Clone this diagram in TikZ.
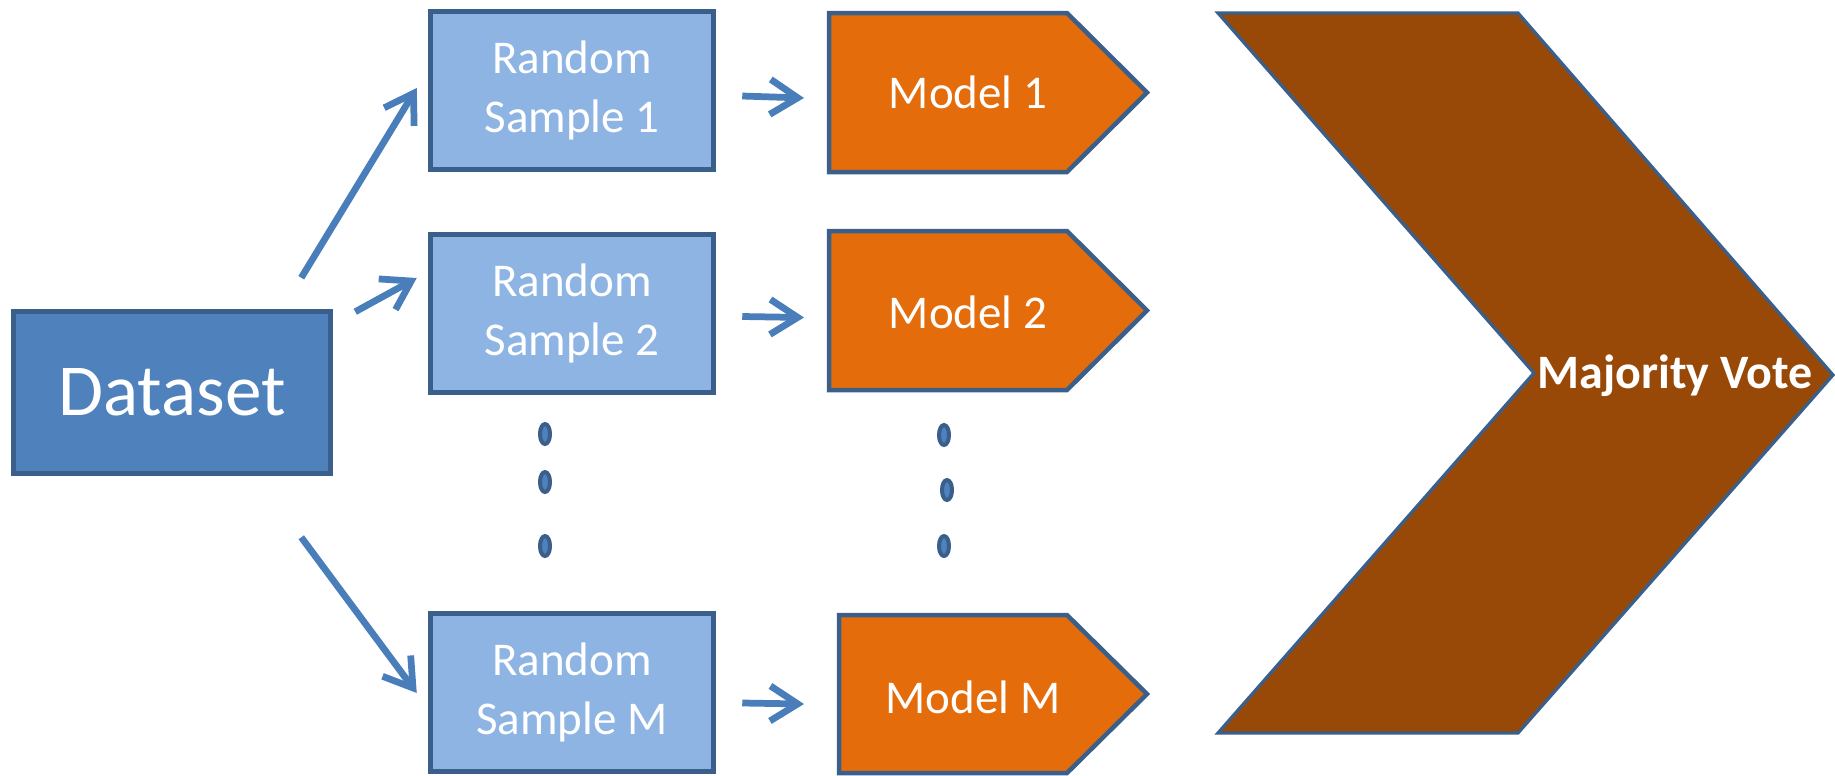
\documentclass[tikz,border=0pt]{standalone}
\usepackage{fontspec}
\setmainfont{Carlito}
\usetikzlibrary{arrows.meta,calc}
\definecolor{dsfill}{HTML}{4F81BD}
\definecolor{bord}{HTML}{3A5F8B}
\definecolor{smpfill}{HTML}{8EB4E3}
\definecolor{mdlfill}{HTML}{E46C0A}
\definecolor{chevfill}{HTML}{984807}
\definecolor{arr}{HTML}{4A7EBB}
\begin{document}
\begin{tikzpicture}[x=0.4pt,y=-0.4pt,
  box/.style={draw=bord, line width=2pt, inner sep=0pt, text=white},
  dsbox/.style={box, fill=dsfill, minimum width=127pt, minimum height=65pt, font=\fontsize{29.3}{34}\selectfont},
  smpbox/.style={box, fill=smpfill, minimum width=113.4pt, minimum height=63.4pt, align=center, font=\fontsize{18.8}{23.4}\selectfont},
  mdlshape/.style={draw=bord, line width=1.8pt, fill=mdlfill, line join=miter},
  mdltext/.style={text=white, inner sep=0pt, font=\fontsize{18.8}{22}\selectfont},
  chevshape/.style={draw=bord, line width=1.3pt, fill=chevfill, line join=miter},
  conn/.style={draw=arr, line width=2.7pt, -{Straight Barb[length=11pt,width=14pt]}},
  vdot/.style={draw=bord, line width=1.6pt, fill=dsfill}
]
\useasboundingbox (0,0) rectangle (1835,775);

% boxes
\node[dsbox] (ds) at (172,392.5) {Dataset};
\node[smpbox] (s1) at (572,90.5) {Random\\Sample 1};
\node[smpbox] (s2) at (572,313.5) {Random\\Sample 2};
\node[smpbox] (sM) at (572,692.5) {Random\\Sample M};

% model pentagons
\path[mdlshape] (829,13) -- (1067,13) -- (1147,92.5) -- (1067,172) -- (829,172) -- cycle;
\path[mdlshape] (829,231) -- (1067,231) -- (1147,310.5) -- (1067,390) -- (829,390) -- cycle;
\path[mdlshape] (839,615) -- (1067,615) -- (1147,694) -- (1067,773) -- (839,773) -- cycle;
\coordinate (m1w) at (829,92.5);
\coordinate (m2w) at (829,310.5);
\coordinate (mMw) at (839,694);
\node[mdltext] (m1) at (968,92) {Model 1};
\node[mdltext] (m2) at (968,312) {Model 2};
\node[mdltext] (mM) at (973,697) {Model M};

% chevron
\path[chevshape] (1218,13) -- (1518,13) -- (1833,375) -- (1518,733) -- (1218,733) -- (1534,373) -- cycle;
\node[text=white, inner sep=0pt, font=\bfseries\fontsize{19.2}{22}\selectfont] (mv) at (1675,376) {Majority Vote};

% dots
\draw[vdot] (545,434) ellipse [x radius=2pt, y radius=4pt];
\draw[vdot] (545,482) ellipse [x radius=2pt, y radius=4pt];
\draw[vdot] (545,546) ellipse [x radius=2pt, y radius=4pt];
\draw[vdot] (944,435) ellipse [x radius=2pt, y radius=4pt];
\draw[vdot] (947,490) ellipse [x radius=2pt, y radius=4pt];
\draw[vdot] (944,546) ellipse [x radius=2pt, y radius=4pt];

% connectors
\draw[conn] ($(ds.north east)+(-32,-31)$) -- ($(s1.west)+(-11,-2.5)$);
\draw[conn] ($(ds.north east)+(22,3)$) -- ($(s2.west)+(-11,-35.5)$);
\draw[conn] ($(ds.south east)+(-32,61)$) -- ($(sM.west)+(-11,0.5)$);
\draw[conn] ($(s1.east)+(26,5.5)$) -- ($(m1w)+(-25,5.5)$);
\draw[conn] ($(s2.east)+(26,3)$) -- ($(m2w)+(-25,7)$);
\draw[conn] ($(sM.east)+(26,10.5)$) -- ($(mMw)+(-35,10)$);
\end{tikzpicture}
\end{document}
